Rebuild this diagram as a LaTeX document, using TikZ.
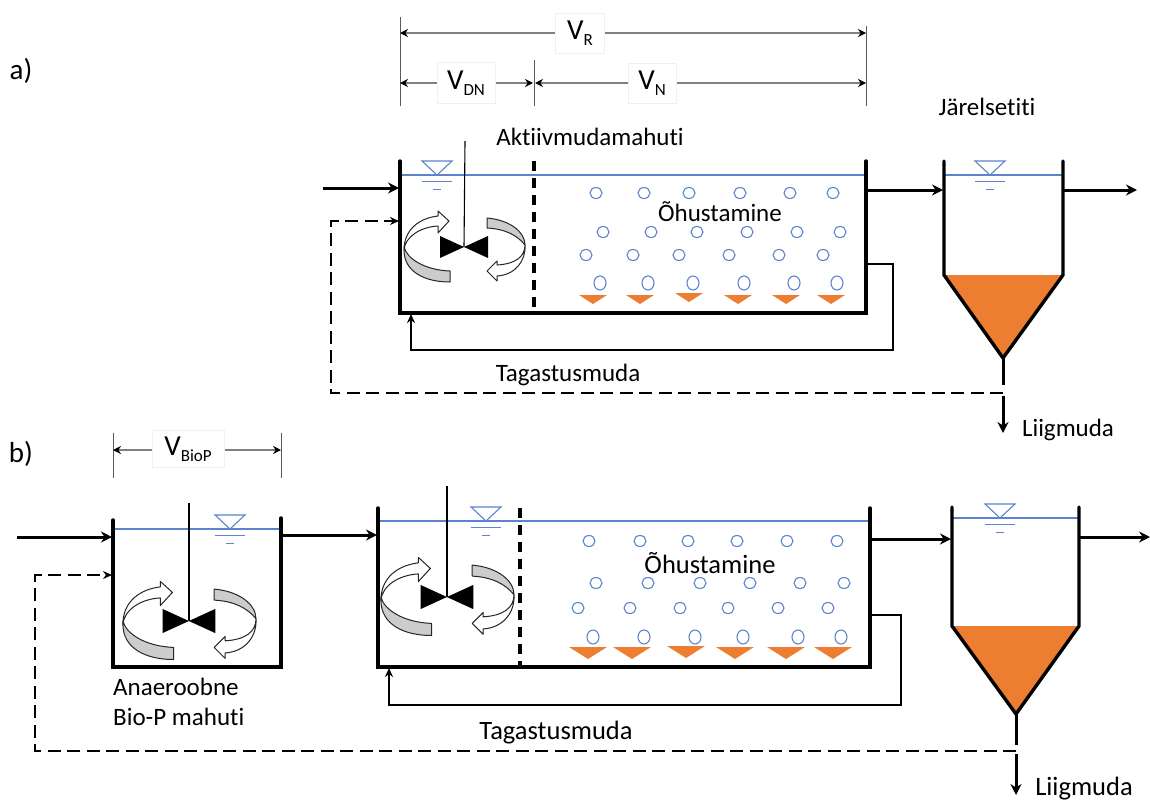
\documentclass[tikz,border=0pt]{standalone}
\usepackage{fontspec}
\setmainfont{Carlito}[Ligatures=NoCommon]
\usepackage{xcolor}
\usetikzlibrary{arrows.meta}
\definecolor{waterblue}{HTML}{5B84CC}
\definecolor{sludge}{HTML}{ED7D31}
\definecolor{bandgray}{HTML}{CCCCCC}
\tikzstyle{plant}=[
  x=1pt,y=-1pt,font=\fontsize{25}{30}\selectfont
]
\tikzstyle{biglabel}=[
  font=\fontsize{26.5}{31}\selectfont
]
\tikzstyle{wall}=[
  line width=3.4pt,line cap=round,line join=miter
]
\tikzstyle{feed}=[
  line width=3pt,-{Stealth[length=11pt,width=11pt]}
]
\tikzstyle{feedend}=[
  line width=3pt
]
\tikzstyle{returnline}=[
  line width=1.5pt,-{Stealth[length=9pt,width=8pt]}
]
\tikzstyle{wasteline}=[
  line width=1.6pt,dash pattern=on 13pt off 6.5pt,-{Stealth[length=9pt,width=8pt]}
]
\tikzstyle{dimline}=[
  line width=1.2pt,gray,{Stealth[black,length=8pt,width=8pt]}-{Stealth[black,length=8pt,width=8pt]}
]
\tikzstyle{dimtick}=[
  line width=0.9pt,black!65
]
\tikzstyle{dimlabel}=[
  draw=black!6,fill=white,inner sep=0pt,font=\fontsize{29}{29}\selectfont
]
\tikzstyle{bubble}=[
  draw=waterblue,line width=1.1pt
]
\tikzstyle{diffuser}=[
  fill=sludge
]
\tikzstyle{water}=[
  draw=waterblue,line width=1.1pt
]
\tikzstyle{band}=[
  draw=black!85,line width=1pt,line join=round
]
\newcommand{\volsub}[1]{V\raisebox{-6pt}{\fontsize{17}{17}\selectfont #1}}
\newcommand{\waterlevel}[2]{
  \draw [water] (#1-15,#2-14) -- (#1+15,#2-14) -- (#1,#2) -- cycle;
  \draw [water,line width=0.8pt] (#1-15,#2+6) -- (#1+15,#2+6);
  \draw [water,line width=0.8pt] (#1-4,#2+14) -- (#1+4,#2+14);
}
\newcommand{\mixer}[3]{
  \begin{scope}[shift={(#1,#2)},scale=#3]
    \draw [band,fill=bandgray] (-61,0) .. controls (-58,12) and (-40,23) .. (-15,24)
      -- (-15,35) .. controls (-40,35) and (-61,25) .. (-61,3) -- cycle;
    \draw [band,fill=white] (-61,3) .. controls (-61,-18) and (-45,-29) .. (-27,-31)
      -- (-27,-36) -- (-16,-26) -- (-27,-14) -- (-27,-21)
      .. controls (-45,-20) and (-60,-10) .. (-61,3) -- cycle;
    \draw [band,fill=bandgray] (22,-29) .. controls (45,-27) and (60,-15) .. (60,-2)
      .. controls (52,-12) and (40,-18) .. (22,-19) -- cycle;
    \draw [band,fill=white] (60,-2) .. controls (60,10) and (50,17) .. (32,18)
      -- (32,14) -- (22,24) -- (32,34) -- (32,29)
      .. controls (50,28) and (61,14) .. (60,-2) -- cycle;
    \fill (-1,0) -- (-25,-11) -- (-25,11) -- cycle;
    \fill (-1,0) -- (23,-11) -- (23,11) -- cycle;
  \end{scope}
}
\begin{document}
\begin{tikzpicture}[plant]
    \useasboundingbox (0,0) rectangle (1150,801);
    \node (lblA) at (21,71) {\fontsize{29}{29}\selectfont a)};
    \node (lblB) at (21,454) {\fontsize{29}{29}\selectfont b)};

    % a) dimensions
    \draw [dimtick] (400,17) -- (400,106);
    \draw [dimtick] (534,60) -- (534,106);
    \draw [dimtick] (866,26) -- (866,106);
    \coordinate (rL) at (400,33);
    \coordinate (rR) at (866,33);
    \coordinate (dnL) at (400,83);
    \coordinate (dnR) at (533,83);
    \coordinate (nL) at (535,83);
    \coordinate (nR) at (866,83);
    \draw [dimline] (rL) -- (rR);
    \draw [dimline] (dnL) -- (dnR);
    \draw [dimline] (nL) -- (nR);
    \node (vR) at (580,33) [dimlabel,minimum width=49pt,minimum height=40pt] {\volsub{R}};
    \node (vDN) at (466,83) [dimlabel,minimum width=58pt,minimum height=41pt] {\volsub{DN}};
    \node (vN) at (652,83) [dimlabel,minimum width=48pt,minimum height=40pt] {\volsub{N}};

    % a) reactor
    \node (tankA) at (590,137) {Aktiivmudamahuti};
    \node (clarA) at (987,107) {Järelsetiti};
    \node (airA) at (720,212) {Õhustamine};
    \foreach \xx/\yy/\ry in {
      596/193/5.5, 644/193/5.5, 689/193/5.5, 740/193/5.5, 790/193/5.5, 833/193/5.5,
      603/232/5.5, 651/232/5.5, 697/232/5.5, 747/232/5.5, 797/232/5.5, 840/232/5.5,
      586/255/5.5, 633/255/5.5, 679/255/5.5, 729/255/5.5, 779/255/5.5, 823/255/5.5,
      600/283/7, 648/283/7, 693/283/7, 744/283/7, 794/283/7, 837/283/7} {
      \draw [bubble] (\xx,\yy) ellipse (6 and \ry);
    }
    \foreach \xx/\yy in {593/295, 640/295, 689/293, 738/295, 786/295, 831/295} {
      \fill [diffuser] (\xx-14,\yy) -- (\xx+14,\yy) -- (\xx,\yy+9) -- cycle;
    }
    \draw [water] (400,175) -- (866,175);
    \waterlevel{437}{175}
    \mixer{465}{247}{1}
    \draw [line width=1.1pt] (465,141) -- (464,247);
    \draw [wall] (400,161) -- (400,313) -- (866,313) -- (866,161);
    \draw [wall,dash pattern=on 10pt off 7pt,line cap=butt] (534,161) -- (534,313);

    % a) clarifier
    \draw [water] (944,175) -- (1063,175);
    \waterlevel{990}{175}
    \fill [sludge] (944,275) -- (1063,275) -- (1003,358) -- cycle;
    \draw [wall] (944,161) -- (944,275) -- (1003,358) -- (1063,275) -- (1063,161);
    \coordinate (tailA) at (1003,358);
    \coordinate (tailEndA) at (1003,385);
    \draw [feedend] (tailA) -- (tailEndA);

    % a) connectors
    \coordinate (inA) at (323,188);
    \coordinate (inTankA) at (399,188);
    \coordinate (outTankA) at (866,190);
    \coordinate (inClarA) at (943,190);
    \coordinate (outClarA) at (1063,190);
    \coordinate (endA) at (1137,190);
    \coordinate (retStartA) at (866,264);
    \coordinate (retEndA) at (411,314);
    \coordinate (wasteA) at (1003,393);
    \coordinate (wasteEndA) at (399,221);
    \coordinate (dropA) at (1003,396);
    \coordinate (dropEndA) at (1003,433);
    \draw [feed] (inA) -- (inTankA);
    \draw [feed] (outTankA) -- (inClarA);
    \draw [feed] (outClarA) -- (endA);
    \draw [returnline] (retStartA) -| (893,350) -| (retEndA);
    \draw [wasteline] (wasteA) -| (331,221) -- (wasteEndA);
    \draw [feed] (dropA) -- (dropEndA);
    \node (retLblA) at (568,375) {Tagastusmuda};
    \node (wasteLblA) at (1068,430) {Liigmuda};

    % b) dimensions
    \draw [dimtick] (113,433) -- (113,478);
    \draw [dimtick] (281,433) -- (281,478);
    \coordinate (bioL) at (113,450);
    \coordinate (bioR) at (281,450);
    \draw [dimline] (bioL) -- (bioR);
    \node (vBioP) at (188,449) [dimlabel,minimum width=72pt,minimum height=37pt] {\volsub{BioP}};

    % b) Bio-P tank
    \draw [water] (113,529) -- (281,529);
    \waterlevel{230}{529}
    \mixer{190}{621}{1.1}
    \draw [line width=1.1pt] (189,503) -- (189,621);
    \draw [wall] (113,520) -- (113,667) -- (281,667) -- (281,518);
    \node (bioLbl) at (113,702) [anchor=west,align=left,inner sep=0pt] {Anaeroobne\\Bio-P mahuti};

    % b) reactor
    \node (airB) at (710,563) [biglabel] {Õhustamine};
    \foreach \xx/\yy/\ry in {
      589/541/5.5, 640/541/5.5, 688/541/5.5, 737/541/5.5, 787/541/5.5, 837/541/5.5,
      596/583/5.5, 648/583/5.5, 700/583/5.5, 750/583/5.5, 800/583/5.5, 844/583/5.5,
      578/608/5.5, 630/608/5.5, 680/608/5.5, 728/608/5.5, 778/608/5.5, 828/608/5.5,
      593/637/7, 644/637/7, 695/637/7, 743/637/7, 798/637/7, 841/637/7} {
      \draw [bubble] (\xx,\yy) ellipse (6 and \ry);
    }
    \foreach \xx/\yy in {590/647, 634/647, 688/646, 737/647, 788/647, 835/647} {
      \fill [diffuser] (\xx-21,\yy) -- (\xx+17,\yy) -- (\xx-2,\yy+12) -- cycle;
    }
    \draw [water] (378,521) -- (870,521);
    \waterlevel{486}{521}
    \mixer{448}{597}{1.1}
    \draw [line width=1.1pt] (447,486) -- (447,597);
    \draw [wall] (378,508) -- (378,667) -- (870,667) -- (870,508);
    \draw [wall,dash pattern=on 10pt off 7pt,line cap=butt] (520,508) -- (520,667);

    % b) clarifier
    \draw [water] (952,518) -- (1079,518);
    \waterlevel{1000}{518}
    \fill [sludge] (952,626) -- (1079,626) -- (1016,714) -- cycle;
    \draw [wall] (952,507) -- (952,626) -- (1016,714) -- (1079,626) -- (1079,507);
    \coordinate (tailB) at (1016,714);
    \coordinate (tailEndB) at (1016,745);
    \draw [feedend] (tailB) -- (tailEndB);

    % b) connectors
    \coordinate (inB) at (17,537);
    \coordinate (inBio) at (112,537);
    \coordinate (outBio) at (281,535);
    \coordinate (inTankB) at (377,535);
    \coordinate (outTankB) at (870,539);
    \coordinate (inClarB) at (951,539);
    \coordinate (outClarB) at (1079,537);
    \coordinate (endB) at (1150,537);
    \coordinate (retStartB) at (870,615);
    \coordinate (retEndB) at (389,668);
    \coordinate (wasteB) at (1016,751);
    \coordinate (wasteEndB) at (112,575);
    \coordinate (dropB) at (1016,754);
    \coordinate (dropEndB) at (1016,795);
    \draw [feed] (inB) -- (inBio);
    \draw [feed] (outBio) -- (inTankB);
    \draw [feed] (outTankB) -- (inClarB);
    \draw [feed] (outClarB) -- (endB);
    \draw [returnline] (retStartB) -| (901,705) -| (retEndB);
    \draw [wasteline] (wasteB) -| (35,575) -- (wasteEndB);
    \draw [feed] (dropB) -- (dropEndB);
    \node (retLblB) at (556,733) [biglabel] {Tagastusmuda};
    \node (wasteLblB) at (1084,789) [biglabel] {Liigmuda};
\end{tikzpicture}
\end{document}
